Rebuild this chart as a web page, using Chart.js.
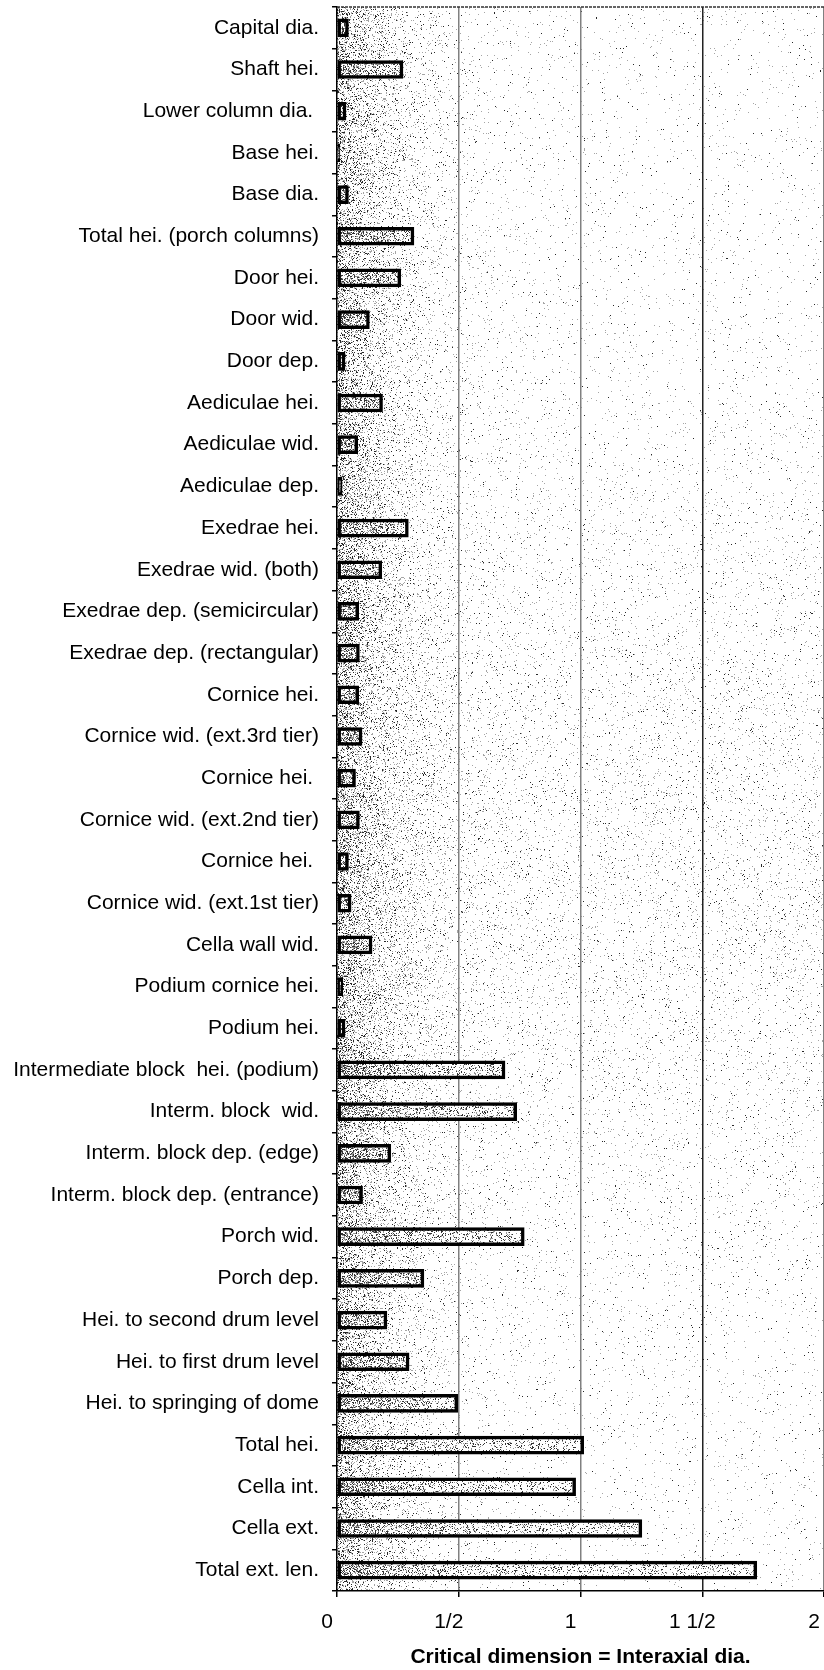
<!DOCTYPE html>
<html>
<head>
<meta charset="utf-8">
<script src="https://cdn.jsdelivr.net/npm/chart.js@4"></script>
<style>
  html, body { margin: 0; padding: 0; background: #fff; }
  #wrap { width: 824px; height: 1670px; }
</style>
</head>
<body>
<div id="wrap"><canvas id="chart" width="824" height="1670"></canvas></div>
<script>
// categories, top to bottom
const dimensions = [
  'Capital dia.', 'Shaft hei.', 'Lower column dia. ', 'Base hei.', 'Base dia.',
  'Total hei. (porch columns)', 'Door hei.', 'Door wid.', 'Door dep.',
  'Aediculae hei.', 'Aediculae wid.', 'Aediculae dep.',
  'Exedrae hei.', 'Exedrae wid. (both)', 'Exedrae dep. (semicircular)', 'Exedrae dep. (rectangular)',
  'Cornice hei.', 'Cornice wid. (ext.3rd tier)', 'Cornice hei. ', 'Cornice wid. (ext.2nd tier)',
  'Cornice hei. ', 'Cornice wid. (ext.1st tier)', 'Cella wall wid.',
  'Podium cornice hei.', 'Podium hei.', 'Intermediate block  hei. (podium)',
  'Interm. block  wid.', 'Interm. block dep. (edge)', 'Interm. block dep. (entrance)',
  'Porch wid.', 'Porch dep.', 'Hei. to second drum level', 'Hei. to first drum level',
  'Hei. to springing of dome', 'Total hei.', 'Cella int.', 'Cella ext.', 'Total ext. len.'
];

// ratio to the interaxial diameter
const ratios = [
  0.047, 0.271, 0.037, 0.012, 0.047,
  0.316, 0.262, 0.133, 0.033,
  0.187, 0.085, 0.021,
  0.293, 0.184, 0.089, 0.092,
  0.089, 0.103, 0.076, 0.092,
  0.047, 0.058, 0.144,
  0.024, 0.033, 0.690,
  0.738, 0.221, 0.105,
  0.769, 0.357, 0.205, 0.296,
  0.496, 1.013, 0.980, 1.252, 1.724
];

const xTickLabels = ['0', '1/2', '1', '1 1/2', '2'];
const axisTitle = 'Critical dimension = Interaxial dia.';

const FONT = "'Liberation Sans', Arial, sans-serif";

// small seeded generator, only for the stipple texture
function mulberry(seed) {
  return function () {
    seed = (seed + 0x6D2B79F5) | 0;
    let t = Math.imul(seed ^ (seed >>> 15), 1 | seed);
    t = (t + Math.imul(t ^ (t >>> 7), 61 | t)) ^ t;
    return ((t ^ (t >>> 14)) >>> 0) / 4294967296;
  };
}

const canvas = document.getElementById('chart');
const ctx = canvas.getContext('2d');

// stipple texture for the bars (darker near the axis)
const barTex = document.createElement('canvas');
barTex.width = 824; barTex.height = 1670;
(function () {
  const c = barTex.getContext('2d');
  const img = c.createImageData(824, 1670);
  const r = mulberry(7);
  for (let y = 0; y < 1670; y++) {
    for (let x = 0; x < 824; x++) {
      const p = 0.16 + 0.38 * Math.exp(-(x - 337) / 70);
      const i = (y * 824 + x) * 4;
      let v = 255;
      if (r() < p) v = r() < 0.5 ? 50 : 150;
      img.data[i] = img.data[i + 1] = img.data[i + 2] = v;
      img.data[i + 3] = 255;
    }
  }
  c.putImageData(img, 0, 0);
})();
const barFill = ctx.createPattern(barTex, 'repeat');

const stipple = {
  id: 'stipple',
  beforeDraw(chart) {
    const a = chart.chartArea;
    const w = Math.round(a.right - a.left), h = Math.round(a.bottom - a.top);
    const img = chart.ctx.createImageData(w, h);
    const r = mulberry(3);
    for (let y = 0; y < h; y++) {
      for (let x = 0; x < w; x++) {
        const near = Math.exp(-x / 42);
        const cloud = 0.03 * Math.exp(-Math.pow((y - 850) / 320, 2));
        const p = 0.016 + 0.38 * near + cloud;
        const i = (y * w + x) * 4;
        let v = 255;
        if (r() < p) v = r() < 0.25 + 0.25 * near ? 40 : 165;
        img.data[i] = img.data[i + 1] = img.data[i + 2] = v;
        img.data[i + 3] = 255;
      }
    }
    chart.ctx.putImageData(img, Math.round(a.left), Math.round(a.top));
  },
  afterDraw(chart) {
    const a = chart.chartArea;
    const c = chart.ctx;
    c.save();
    c.strokeStyle = '#333';
    c.lineWidth = 1.5;
    c.setLineDash([3, 1]);
    c.beginPath();
    c.moveTo(a.left, a.top);
    c.lineTo(a.right, a.top);
    c.stroke();
    c.restore();
  }
};

new Chart(canvas, {
  type: 'bar',
  data: {
    labels: dimensions,
    datasets: [{
      data: ratios,
      backgroundColor: barFill,
      borderColor: '#000',
      borderWidth: 3.5,
      borderSkipped: false,
      barThickness: 18
    }]
  },
  options: {
    indexAxis: 'y',
    responsive: false,
    animation: false,
    devicePixelRatio: 1,
    layout: { padding: { top: 7, left: 0, right: 0, bottom: 0 } },
    plugins: {
      legend: { display: false },
      tooltip: { enabled: false }
    },
    scales: {
      x: {
        min: 0,
        max: 2,
        ticks: {
          stepSize: 0.5,
          color: '#000',
          padding: 13,
          labelOffset: -10,
          font: { family: FONT, size: 21 },
          callback: (v) => xTickLabels[Math.round(v * 2)]
        },
        grid: {
          color: (c) => c.tick && c.tick.value === 1.5 ? '#222' : (c.tick && c.tick.value === 0 ? 'rgba(0,0,0,0)' : '#808080'),
          lineWidth: 1.5,
          tickColor: '#000',
          tickLength: 6
        },
        border: { color: '#000', width: 1.5 },
        title: {
          display: true,
          text: axisTitle,
          color: '#000',
          font: { family: FONT, size: 21, weight: 'bold' },
          padding: { top: 12, bottom: 0 }
        },
        afterFit(scale) {
          scale.paddingLeft = 0;
          scale.paddingRight = 0;
          scale.height = 79;
        }
      },
      y: {
        ticks: {
          color: '#000',
          padding: 13,
          autoSkip: false,
          font: { family: FONT, size: 21 }
        },
        grid: {
          drawOnChartArea: false,
          tickColor: '#000',
          tickLength: 5,
          lineWidth: 1.5
        },
        border: { color: '#000', width: 1.5 },
        afterFit(scale) {
          scale.paddingTop = 0;
          scale.paddingBottom = 0;
          scale.width = 337;
        }
      }
    }
  },
  plugins: [stipple]
});
</script>
</body>
</html>
